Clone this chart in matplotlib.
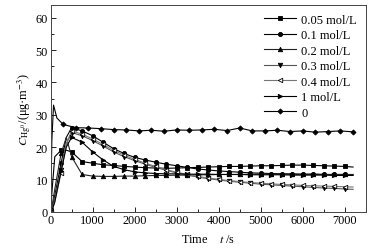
import numpy as np
import matplotlib
matplotlib.use("Agg")
import matplotlib.pyplot as plt

plt.rcParams['font.family'] = ['Liberation Serif', 'DejaVu Serif']
plt.rcParams['mathtext.fontset'] = 'stix'

# sample times (s) for the dosed runs, and for the blank run
t_dose = np.concatenate([[0, 50, 100, 250, 375], np.arange(500, 7001, 250), [7200]])
t_blank = np.concatenate([[0, 30, 70, 150], np.arange(300, 7201, 300)])

c_005 = [0.5, 9, 17, 19, 19, 18.5, 15.5, 15, 14.5, 14.3, 14, 13.8, 13.6, 13.5, 13.4,
         13.5, 13.6, 13.7, 13.8, 13.9, 14, 14, 14.1, 14.2, 14.2, 14.3, 14.4, 14.4,
         14.3, 14.2, 14.1, 14, 13.8]
c_01 = [0, 2, 5, 15, 23, 26, 25, 23.5, 21.5, 19.5, 18, 16.8, 16, 15.3, 14.7, 14.2,
        13.7, 13.2, 12.9, 12.6, 12.4, 12.2, 12, 11.9, 11.8, 11.7, 11.7, 11.6, 11.6,
        11.5, 11.5, 11.5, 11.4]
c_02 = [0, 3, 7, 18, 23, 17, 11.5, 11, 10.9, 10.9, 11, 11, 11.1, 11.2, 11.2, 11.3,
        11.3, 11.4, 11.4, 11.5, 11.5, 11.5, 11.6, 11.6, 11.6, 11.6, 11.6, 11.5, 11.6,
        11.5, 11.5, 11.5, 11.5]
c_03 = [0, 1.5, 4, 13, 21, 24.5, 23.5, 22, 20.3, 18.5, 17, 15.8, 14.7, 13.7, 12.8,
        12, 11.3, 10.7, 10.2, 9.8, 9.4, 9.1, 8.8, 8.5, 8.3, 8.1, 7.9, 7.7, 7.5, 7.3,
        7.2, 7.0, 6.9]
c_04 = [0, 1, 3, 12, 21, 25, 24, 22.5, 20.8, 19, 17.5, 16.2, 15, 14, 13, 12.2, 11.5,
        10.9, 10.4, 10, 9.6, 9.3, 9.0, 8.8, 8.6, 8.4, 8.3, 8.1, 8.0, 7.9, 7.8, 7.7, 7.6]
c_1 = [0, 1, 3, 12.5, 20, 23, 21.5, 18.5, 16, 14, 13, 12.3, 12, 11.8, 11.7, 11.7,
       11.6, 11.6, 11.6, 11.5, 11.5, 11.5, 11.4, 11.4, 11.4, 11.4, 11.3, 11.3, 11.3,
       11.3, 11.2, 11.2, 11.2]
c_0 = [0, 22, 33, 29, 27, 26, 25.9, 25.7, 25.4, 25.3, 25, 25.2, 24.9, 25.3, 25.2,
       25.3, 25.5, 25.1, 25.9, 25, 25, 25.2, 24.8, 25, 24.6, 24.8, 25, 24.7]

labels = ['0.05 mol/L', '0.1 mol/L', '0.2 mol/L', '0.3 mol/L', '0.4 mol/L', '1 mol/L', '0']

fig = plt.figure(figsize=(3.72, 2.51), dpi=100)
ax = fig.add_axes([0.136, 0.153, 0.847, 0.823])

dose_mark = (t_dose % 250 == 0)
blank_mark = (t_blank % 300 == 0) & (t_blank > 0)

styles = [
    (t_dose, c_005, 's', 3.4, 'black', 'black', dose_mark),
    (t_dose, c_01, 'o', 3.0, 'black', 'black', dose_mark),
    (t_dose, c_02, '^', 3.2, '#222222', 'black', dose_mark),
    (t_dose, c_03, 'v', 3.2, '#555555', 'black', dose_mark),
    (t_dose, c_04, '<', 3.2, '#777777', 'white', dose_mark),
    (t_dose, c_1, '>', 3.2, 'black', 'black', dose_mark),
    (t_blank, c_0, 'D', 2.6, 'black', 'black', blank_mark),
]
for (t, c, m, ms, col, fc, mk), lab in zip(styles, labels):
    ax.plot(t, c, color=col, lw=0.8, marker=m, ms=ms, mfc=fc, mec='black',
            mew=0.6, markevery=list(mk), label=lab)

ax.set_xlim(0, 7500)
ax.set_ylim(0, 64)
ax.set_xticks(np.arange(0, 7001, 1000))
ax.set_xticks(np.arange(500, 7501, 1000), minor=True)
ax.set_yticks(np.arange(0, 61, 10))
ax.set_yticks(np.arange(5, 64, 10), minor=True)
ax.tick_params(which='both', direction='in', labelsize=8.8, top=False, right=False)
ax.tick_params(which='major', length=3.5, width=0.6, pad=2)
ax.tick_params(which='minor', length=2, width=0.6)
for s in ax.spines.values():
    s.set_linewidth(0.7)
    s.set_color('#444444')

ax.set_xlabel('Time    $t$ /s', fontsize=8.8, labelpad=5)
ax.set_ylabel(r'$C_{\mathrm{Hg^0}}$/(μg·m$^{-3}$)', fontsize=8.8, labelpad=2)

leg = ax.legend(loc='upper right', frameon=False, fontsize=9, handlelength=2.6,
                labelspacing=0.28, handletextpad=0.4, borderaxespad=0.3)

fig.savefig('out.png', dpi=100)
